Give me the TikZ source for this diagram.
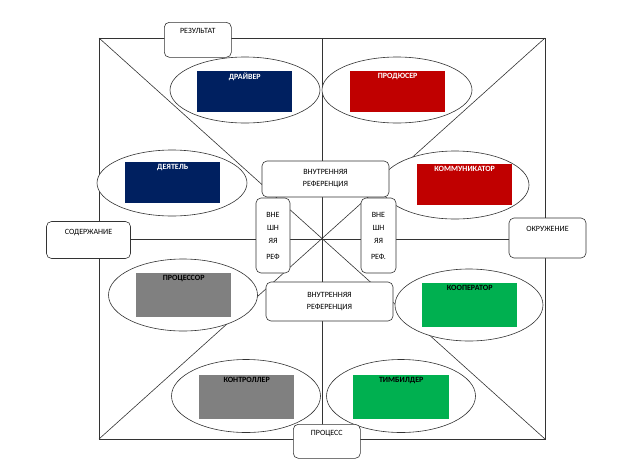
\documentclass[tikz,border=0pt]{standalone}
\usepackage{fontspec}
\setmainfont{Carlito}
\usetikzlibrary{shapes.geometric}
\definecolor{navy}{HTML}{002060}
\definecolor{rd}{HTML}{C00000}
\definecolor{gr}{HTML}{00B050}
\definecolor{gy}{HTML}{808080}
\tikzset{
  ln/.style={draw=black!80,line width=0.6pt},
  ell/.style={ellipse,draw=black!80,fill=white,line width=0.6pt,inner sep=0pt},
  card/.style={draw=none,inner sep=2pt,anchor=north west,font=\fontsize{8}{9}\selectfont\bfseries,align=center},
  rbox/.style={draw=black!80,fill=white,rounded corners=5pt,line width=0.6pt,inner sep=2pt,font=\fontsize{8}{12}\selectfont,align=center},
}
\begin{document}
\begin{tikzpicture}[x=1pt,y=-1pt]
\useasboundingbox (0,0) rectangle (642,469);
\coordinate (tl) at (99,38); \coordinate (tr) at (545,38);
\coordinate (bl) at (99,439); \coordinate (br) at (545,439);
\coordinate (tm) at (322,38); \coordinate (bm) at (322,439);
\coordinate (lm) at (99,239); \coordinate (rm) at (545,239);
\draw[ln] (tl) rectangle (br);
\draw[ln] (tm) -- (bm);
\draw[ln] (lm) -- (rm);
\draw[ln] (tl) -- (br);
\draw[ln] (tr) -- (bl);
% ellipses
\node[ell,minimum width=150,minimum height=66] (e1) at (245,90) {};
\node[ell,minimum width=150,minimum height=66] (e2) at (397,90) {};
\node[ell,minimum width=150,minimum height=66] (e3) at (172,183) {};
\node[ell,minimum width=148,minimum height=68] (e4) at (455,185) {};
\node[ell,minimum width=149,minimum height=72] (e5) at (183,295) {};
\node[ell,minimum width=148,minimum height=72] (e6) at (469,305) {};
\node[ell,minimum width=149,minimum height=73] (e7) at (246,396) {};
\node[ell,minimum width=149,minimum height=73] (e8) at (401,396) {};
% cards
\fill[navy] (197,71) rectangle (292,112); \node[card,text=white,text width=91] (c1) at (197,71) {ДРАЙВЕР};
\fill[rd] (350,71) rectangle (445,112); \node[card,text=white,text width=91] (c2) at (350,71) {ПРОДЮСЕР};
\fill[navy] (125,162) rectangle (220,203); \node[card,text=white,text width=91] (c3) at (125,162) {ДЕЯТЕЛЬ};
\fill[rd] (417,164) rectangle (512,205); \node[card,text=white,text width=91] (c4) at (417,164) {КОММУНИКАТОР};
\fill[gy] (136,273) rectangle (231,317); \node[card,text=black,text width=91] (c5) at (136,273) {ПРОЦЕССОР};
\fill[gr] (422,283) rectangle (517,327); \node[card,text=black,text width=91] (c6) at (422,283) {КООПЕРАТОР};
\fill[gy] (199,375) rectangle (294,419); \node[card,text=black,text width=91] (c7) at (199,375) {КОНТРОЛЛЕР};
\fill[gr] (353,375) rectangle (449,419); \node[card,text=black,text width=92] (c8) at (353,375) {ТИМБИЛДЕР};
% boxes
\node[rbox,minimum width=67,minimum height=35,anchor=north west,text depth=18pt] (res) at (164,22) {РЕЗУЛЬТАТ};
\node[rbox,minimum width=127,minimum height=36] (in1) at (325.5,179) {ВНУТРЕННЯЯ\\РЕФЕРЕНЦИЯ};
\node[rbox,minimum width=127,minimum height=39] (in2) at (329.5,301.5) {ВНУТРЕННЯЯ\\РЕФЕРЕНЦИЯ};
\node[rbox,minimum width=34,minimum height=75,font=\fontsize{8}{13}\selectfont] (v1) at (273,235.5) {ВНЕ\\ШН\\ЯЯ\\[3pt]РЕФ};
\node[rbox,minimum width=35,minimum height=75,font=\fontsize{8}{13}\selectfont] (v2) at (378.5,235.5) {ВНЕ\\ШН\\ЯЯ\\[3pt]РЕФ.};
\node[rbox,minimum width=84,minimum height=37,text depth=16pt] (sod) at (88.5,240) {СОДЕРЖАНИЕ};
\node[rbox,minimum width=77,minimum height=40,text depth=18pt] (okr) at (547.5,238) {ОКРУЖЕНИЕ};
\node[rbox,minimum width=67,minimum height=34,anchor=north west,text depth=16pt] (pro) at (293,424) {ПРОЦЕСС};
\end{tikzpicture}
\end{document}
